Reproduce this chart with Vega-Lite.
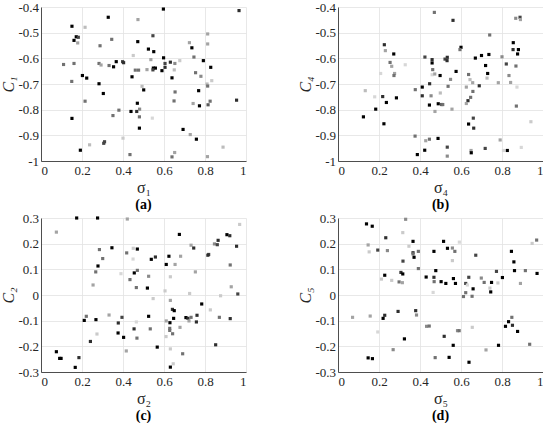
{
  "$schema": "https://vega.github.io/schema/vega-lite/v6.json",
  "padding": {"left": 0, "top": 1, "right": 0, "bottom": 0},
  "background": "white",
  "datasets": {
    "a": [
      {"s":0.328,"c":-0.440,"g":0},{"s":0.473,"c":-0.449,"g":0.7},{"s":0.151,"c":-0.475,"g":0},{"s":0.215,"c":-0.479,"g":0.8},
      {"s":0.172,"c":-0.516,"g":0},{"s":0.182,"c":-0.518,"g":0.3},{"s":0.161,"c":-0.530,"g":0},{"s":0.179,"c":-0.540,"g":0.7},
      {"s":0.345,"c":-0.526,"g":0.5},{"s":0.472,"c":-0.535,"g":0},{"s":0.288,"c":-0.551,"g":0.5},{"s":0.450,"c":-0.589,"g":0.85},
      {"s":0.110,"c":-0.624,"g":0.5},{"s":0.161,"c":-0.620,"g":0.5},{"s":0.150,"c":-0.690,"g":0.5},{"s":0.202,"c":-0.667,"g":0},
      {"s":0.223,"c":-0.677,"g":0},{"s":0.283,"c":-0.620,"g":0.5},{"s":0.293,"c":-0.626,"g":0.7},{"s":0.332,"c":-0.628,"g":0.5},
      {"s":0.354,"c":-0.633,"g":0},{"s":0.367,"c":-0.613,"g":0},{"s":0.398,"c":-0.613,"g":0.3},{"s":0.403,"c":-0.617,"g":0.2},
      {"s":0.283,"c":-0.699,"g":0},{"s":0.304,"c":-0.737,"g":0},{"s":0.215,"c":-0.767,"g":0.5},{"s":0.380,"c":-0.802,"g":0.5},
      {"s":0.351,"c":-0.823,"g":0.5},{"s":0.151,"c":-0.834,"g":0},{"s":0.400,"c":-0.911,"g":0.85},{"s":0.306,"c":-0.931,"g":0.3},
      {"s":0.310,"c":-0.925,"g":0.3},{"s":0.237,"c":-0.937,"g":0.8},{"s":0.192,"c":-0.958,"g":0},{"s":0.434,"c":-0.975,"g":0.5},
      {"s":0.444,"c":-0.672,"g":0},{"s":0.460,"c":-0.646,"g":0.5},{"s":0.476,"c":-0.646,"g":0.5},{"s":0.470,"c":-0.775,"g":0},
      {"s":0.467,"c":-0.807,"g":0.2},{"s":0.439,"c":-0.807,"g":0},{"s":0.480,"c":-0.828,"g":0.5},{"s":0.481,"c":-0.798,"g":0.6},
      {"s":0.480,"c":-0.872,"g":0},{"s":0.501,"c":-0.723,"g":0},{"s":0.493,"c":-0.709,"g":0.8},{"s":0.597,"c":-0.408,"g":0},
      {"s":0.966,"c":-0.414,"g":0.2},{"s":0.546,"c":-0.512,"g":0.3},{"s":0.813,"c":-0.505,"g":0.7},{"s":0.724,"c":-0.539,"g":0.7},
      {"s":0.736,"c":-0.559,"g":0},{"s":0.813,"c":-0.544,"g":0.7},{"s":0.524,"c":-0.564,"g":0},{"s":0.550,"c":-0.574,"g":0},
      {"s":0.598,"c":-0.598,"g":0},{"s":0.746,"c":-0.595,"g":0.5},{"s":0.536,"c":-0.605,"g":0.7},{"s":0.605,"c":-0.620,"g":0.3},
      {"s":0.631,"c":-0.615,"g":0.2},{"s":0.653,"c":-0.620,"g":0.6},{"s":0.677,"c":-0.609,"g":0.85},{"s":0.792,"c":-0.609,"g":0},
      {"s":0.828,"c":-0.635,"g":0},{"s":0.517,"c":-0.644,"g":0.7},{"s":0.548,"c":-0.638,"g":0},{"s":0.558,"c":-0.638,"g":0},
      {"s":0.546,"c":-0.645,"g":0.3},{"s":0.605,"c":-0.635,"g":0.2},{"s":0.590,"c":-0.648,"g":0},{"s":0.650,"c":-0.645,"g":0.8},
      {"s":0.754,"c":-0.656,"g":0.5},{"s":0.780,"c":-0.670,"g":0.6},{"s":0.639,"c":-0.676,"g":0},{"s":0.833,"c":-0.687,"g":0.85},
      {"s":0.810,"c":-0.700,"g":0.8},{"s":0.813,"c":-0.708,"g":0.5},{"s":0.769,"c":-0.726,"g":0},{"s":0.654,"c":-0.731,"g":0.5},
      {"s":0.649,"c":-0.766,"g":0.5},{"s":0.742,"c":-0.776,"g":0.7},{"s":0.773,"c":-0.785,"g":0},{"s":0.815,"c":-0.781,"g":0.4},
      {"s":0.825,"c":-0.767,"g":0.5},{"s":0.954,"c":-0.763,"g":0.2},{"s":0.543,"c":-0.833,"g":0.9},{"s":0.693,"c":-0.877,"g":0},
      {"s":0.728,"c":-0.897,"g":0.7},{"s":0.758,"c":-0.915,"g":0},{"s":0.888,"c":-0.946,"g":0.8},{"s":0.652,"c":-0.967,"g":0.7},
      {"s":0.639,"c":-0.984,"g":0.5},{"s":0.812,"c":-0.983,"g":0.7}
    ],
    "b": [
      {"s":0.470,"c":-0.421,"g":0.5},{"s":0.226,"c":-0.547,"g":0.2},{"s":0.231,"c":-0.570,"g":0.7},{"s":0.272,"c":-0.583,"g":0},
      {"s":0.254,"c":-0.616,"g":0.5},{"s":0.262,"c":-0.631,"g":0.7},{"s":0.276,"c":-0.659,"g":0.7},{"s":0.273,"c":-0.667,"g":0.5},
      {"s":0.328,"c":-0.625,"g":0.9},{"s":0.208,"c":-0.659,"g":0.9},{"s":0.133,"c":-0.726,"g":0.8},{"s":0.179,"c":-0.750,"g":0.9},
      {"s":0.218,"c":-0.749,"g":0.2},{"s":0.236,"c":-0.772,"g":0},{"s":0.285,"c":-0.754,"g":0},{"s":0.184,"c":-0.798,"g":0},
      {"s":0.124,"c":-0.828,"g":0},{"s":0.224,"c":-0.855,"g":0},{"s":0.377,"c":-0.722,"g":0.5},{"s":0.424,"c":-0.595,"g":0.3},
      {"s":0.459,"c":-0.605,"g":0.2},{"s":0.459,"c":-0.618,"g":0},{"s":0.462,"c":-0.644,"g":0.5},{"s":0.459,"c":-0.664,"g":0.9},
      {"s":0.472,"c":-0.661,"g":0.7},{"s":0.498,"c":-0.667,"g":0},{"s":0.447,"c":-0.699,"g":0.2},{"s":0.411,"c":-0.712,"g":0},
      {"s":0.411,"c":-0.746,"g":0.2},{"s":0.454,"c":-0.746,"g":0.6},{"s":0.446,"c":-0.782,"g":0},{"s":0.489,"c":-0.777,"g":0},
      {"s":0.506,"c":-0.780,"g":0.3},{"s":0.473,"c":-0.807,"g":0.7},{"s":0.499,"c":-0.735,"g":0.8},{"s":0.376,"c":-0.903,"g":0.5},
      {"s":0.387,"c":-0.975,"g":0},{"s":0.423,"c":-0.958,"g":0},{"s":0.428,"c":-0.921,"g":0.7},{"s":0.446,"c":-0.915,"g":0.5},
      {"s":0.488,"c":-0.912,"g":0},{"s":0.561,"c":-0.452,"g":0.2},{"s":0.867,"c":-0.444,"g":0.6},{"s":0.888,"c":-0.440,"g":0.3},
      {"s":0.890,"c":-0.449,"g":0.7},{"s":0.740,"c":-0.509,"g":0.5},{"s":0.855,"c":-0.539,"g":0},{"s":0.854,"c":-0.566,"g":0.2},
      {"s":0.880,"c":-0.566,"g":0},{"s":0.876,"c":-0.583,"g":0},{"s":0.600,"c":-0.557,"g":0},{"s":0.595,"c":-0.566,"g":0.5},
      {"s":0.533,"c":-0.596,"g":0.2},{"s":0.522,"c":-0.603,"g":0.3},{"s":0.532,"c":-0.609,"g":0.2},{"s":0.670,"c":-0.599,"g":0},
      {"s":0.700,"c":-0.589,"g":0},{"s":0.736,"c":-0.585,"g":0},{"s":0.800,"c":-0.594,"g":0.6},{"s":0.821,"c":-0.622,"g":0.3},
      {"s":0.868,"c":-0.630,"g":0.5},{"s":0.720,"c":-0.628,"g":0},{"s":0.730,"c":-0.659,"g":0},{"s":0.727,"c":-0.677,"g":0.8},
      {"s":0.834,"c":-0.667,"g":0.6},{"s":0.842,"c":-0.694,"g":0.7},{"s":0.782,"c":-0.695,"g":0.7},{"s":0.576,"c":-0.651,"g":0},
      {"s":0.549,"c":-0.682,"g":0.6},{"s":0.637,"c":-0.663,"g":0.5},{"s":0.657,"c":-0.695,"g":0.7},{"s":0.644,"c":-0.683,"g":0.8},
      {"s":0.537,"c":-0.709,"g":0.5},{"s":0.689,"c":-0.707,"g":0.2},{"s":0.626,"c":-0.712,"g":0.7},{"s":0.658,"c":-0.729,"g":0.5},
      {"s":0.647,"c":-0.752,"g":0.5},{"s":0.634,"c":-0.765,"g":0.2},{"s":0.626,"c":-0.776,"g":0.7},{"s":0.511,"c":-0.780,"g":0.5},
      {"s":0.556,"c":-0.798,"g":0.7},{"s":0.870,"c":-0.786,"g":0.5},{"s":0.873,"c":-0.712,"g":0.9},{"s":0.660,"c":-0.833,"g":0.3},
      {"s":0.637,"c":-0.856,"g":0},{"s":0.662,"c":-0.872,"g":0.2},{"s":0.941,"c":-0.847,"g":0.85},{"s":0.791,"c":-0.918,"g":0.7},
      {"s":0.533,"c":-0.946,"g":0.3},{"s":0.533,"c":-0.981,"g":0.6},{"s":0.649,"c":-0.959,"g":0.7},{"s":0.650,"c":-0.968,"g":0},
      {"s":0.718,"c":-0.951,"g":0.3},{"s":0.826,"c":-0.959,"g":0},{"s":0.807,"c":-0.959,"g":0.9},{"s":0.894,"c":-0.947,"g":0.9}
    ],
    "c": [
      {"s":0.174,"c":0.300,"g":0},{"s":0.276,"c":0.300,"g":0},{"s":0.421,"c":0.296,"g":0.7},{"s":0.075,"c":0.245,"g":0.7},
      {"s":0.346,"c":0.184,"g":0},{"s":0.285,"c":0.177,"g":0.5},{"s":0.301,"c":0.142,"g":0.5},{"s":0.278,"c":0.113,"g":0},
      {"s":0.267,"c":0.090,"g":0.5},{"s":0.254,"c":0.039,"g":0.7},{"s":0.450,"c":0.182,"g":0.85},{"s":0.470,"c":0.179,"g":0},
      {"s":0.418,"c":0.164,"g":0.5},{"s":0.449,"c":0.140,"g":0.9},{"s":0.390,"c":0.083,"g":0.9},{"s":0.455,"c":0.086,"g":0},
      {"s":0.470,"c":0.096,"g":0.5},{"s":0.434,"c":0.060,"g":0.5},{"s":0.465,"c":0.029,"g":0.5},{"s":0.211,"c":-0.099,"g":0},
      {"s":0.221,"c":-0.083,"g":0.5},{"s":0.268,"c":-0.096,"g":0},{"s":0.332,"c":-0.078,"g":0.7},{"s":0.273,"c":-0.152,"g":0.85},
      {"s":0.241,"c":-0.181,"g":0.2},{"s":0.377,"c":-0.109,"g":0.2},{"s":0.395,"c":-0.087,"g":0.3},{"s":0.376,"c":-0.148,"g":0},
      {"s":0.403,"c":-0.165,"g":0},{"s":0.454,"c":-0.132,"g":0.2},{"s":0.465,"c":-0.105,"g":0.9},{"s":0.468,"c":-0.168,"g":0.5},
      {"s":0.416,"c":-0.218,"g":0.7},{"s":0.075,"c":-0.221,"g":0},{"s":0.091,"c":-0.247,"g":0},{"s":0.098,"c":-0.247,"g":0},
      {"s":0.185,"c":-0.244,"g":0.2},{"s":0.167,"c":-0.282,"g":0},{"s":0.675,"c":0.236,"g":0},{"s":0.969,"c":0.275,"g":0.85},
      {"s":0.907,"c":0.235,"g":0},{"s":0.921,"c":0.231,"g":0.2},{"s":0.864,"c":0.213,"g":0.2},{"s":0.846,"c":0.199,"g":0.6},
      {"s":0.860,"c":0.196,"g":0.3},{"s":0.954,"c":0.190,"g":0.2},{"s":0.732,"c":0.194,"g":0.7},{"s":0.745,"c":0.183,"g":0.2},
      {"s":0.818,"c":0.158,"g":0.3},{"s":0.814,"c":0.155,"g":0.2},{"s":0.558,"c":0.148,"g":0.2},{"s":0.538,"c":0.139,"g":0},
      {"s":0.624,"c":0.151,"g":0},{"s":0.681,"c":0.151,"g":0.7},{"s":0.611,"c":0.119,"g":0},{"s":0.654,"c":0.119,"g":0.7},
      {"s":0.923,"c":0.117,"g":0.5},{"s":0.753,"c":0.090,"g":0.7},{"s":0.525,"c":0.073,"g":0.6},{"s":0.631,"c":0.071,"g":0.85},
      {"s":0.928,"c":0.032,"g":0.7},{"s":0.519,"c":0.027,"g":0},{"s":0.605,"c":0.016,"g":0.85},{"s":0.725,"c":0.006,"g":0.85},
      {"s":0.960,"c":0.004,"g":0.3},{"s":0.876,"c":-0.003,"g":0.85},{"s":0.547,"c":-0.014,"g":0.85},{"s":0.631,"c":-0.021,"g":0.7},
      {"s":0.784,"c":-0.035,"g":0},{"s":0.641,"c":-0.056,"g":0.2},{"s":0.650,"c":-0.061,"g":0},{"s":0.826,"c":-0.058,"g":0.85},
      {"s":0.525,"c":-0.083,"g":0},{"s":0.647,"c":-0.091,"g":0},{"s":0.707,"c":-0.088,"g":0},{"s":0.717,"c":-0.091,"g":0.2},
      {"s":0.732,"c":-0.087,"g":0.5},{"s":0.722,"c":-0.101,"g":0.7},{"s":0.761,"c":-0.079,"g":0.2},{"s":0.758,"c":-0.105,"g":0.2},
      {"s":0.870,"c":-0.087,"g":0.5},{"s":0.923,"c":-0.092,"g":0.2},{"s":0.611,"c":-0.101,"g":0.7},{"s":0.629,"c":-0.108,"g":0},
      {"s":0.628,"c":-0.130,"g":0.5},{"s":0.628,"c":-0.138,"g":0.5},{"s":0.533,"c":-0.132,"g":0.5},{"s":0.678,"c":-0.126,"g":0.7},
      {"s":0.642,"c":-0.151,"g":0.5},{"s":0.610,"c":-0.162,"g":0.85},{"s":0.567,"c":-0.203,"g":0},{"s":0.852,"c":-0.194,"g":0.2},
      {"s":0.631,"c":-0.210,"g":0.85},{"s":0.691,"c":-0.229,"g":0.5},{"s":0.645,"c":-0.268,"g":0.85},{"s":0.631,"c":-0.281,"g":0}
    ],
    "d": [
      {"s":0.139,"c":0.277,"g":0},{"s":0.167,"c":0.268,"g":0},{"s":0.330,"c":0.295,"g":0.6},{"s":0.316,"c":0.243,"g":0.85},
      {"s":0.233,"c":0.223,"g":0.2},{"s":0.147,"c":0.195,"g":0.7},{"s":0.152,"c":0.168,"g":0.85},{"s":0.194,"c":0.175,"g":0.3},
      {"s":0.241,"c":0.173,"g":0.6},{"s":0.366,"c":0.209,"g":0},{"s":0.346,"c":0.190,"g":0.85},{"s":0.366,"c":0.165,"g":0.3},
      {"s":0.366,"c":0.160,"g":0.5},{"s":0.392,"c":0.170,"g":0.5},{"s":0.371,"c":0.147,"g":0},{"s":0.317,"c":0.132,"g":0.3},
      {"s":0.468,"c":0.170,"g":0},{"s":0.392,"c":0.103,"g":0.5},{"s":0.307,"c":0.088,"g":0.2},{"s":0.316,"c":0.082,"g":0},
      {"s":0.228,"c":0.077,"g":0},{"s":0.212,"c":0.062,"g":0.85},{"s":0.262,"c":0.057,"g":0.85},{"s":0.298,"c":0.051,"g":0.5},
      {"s":0.314,"c":0.048,"g":0.7},{"s":0.430,"c":0.070,"g":0},{"s":0.468,"c":0.069,"g":0.2},{"s":0.477,"c":0.095,"g":0},
      {"s":0.469,"c":0.052,"g":0.5},{"s":0.503,"c":0.052,"g":0},{"s":0.464,"c":0.010,"g":0.9},{"s":0.071,"c":-0.087,"g":0.7},
      {"s":0.157,"c":-0.082,"g":0.7},{"s":0.228,"c":-0.079,"g":0.2},{"s":0.220,"c":-0.091,"g":0},{"s":0.194,"c":-0.144,"g":0.9},
      {"s":0.293,"c":-0.064,"g":0.2},{"s":0.379,"c":-0.061,"g":0.2},{"s":0.383,"c":-0.078,"g":0.6},{"s":0.432,"c":-0.122,"g":0.6},
      {"s":0.445,"c":-0.121,"g":0.5},{"s":0.324,"c":-0.171,"g":0},{"s":0.269,"c":-0.213,"g":0.6},{"s":0.147,"c":-0.245,"g":0},
      {"s":0.168,"c":-0.248,"g":0},{"s":0.474,"c":-0.244,"g":0.5},{"s":0.515,"c":0.209,"g":0},{"s":0.534,"c":0.182,"g":0},
      {"s":0.558,"c":0.183,"g":0.6},{"s":0.570,"c":0.170,"g":0.5},{"s":0.558,"c":0.134,"g":0.85},{"s":0.592,"c":0.206,"g":0.9},
      {"s":0.672,"c":0.155,"g":0.3},{"s":0.526,"c":0.045,"g":0},{"s":0.563,"c":0.064,"g":0},{"s":0.573,"c":0.045,"g":0},
      {"s":0.638,"c":0.069,"g":0.3},{"s":0.623,"c":0.045,"g":0.3},{"s":0.631,"c":0.039,"g":0.9},{"s":0.659,"c":0.024,"g":0},
      {"s":0.623,"c":0.009,"g":0.5},{"s":0.612,"c":-0.006,"g":0.5},{"s":0.654,"c":-0.005,"g":0.5},{"s":0.699,"c":0.066,"g":0.6},
      {"s":0.713,"c":0.049,"g":0.5},{"s":0.749,"c":0.049,"g":0},{"s":0.741,"c":0.027,"g":0.85},{"s":0.745,"c":0.012,"g":0},
      {"s":0.773,"c":0.092,"g":0.3},{"s":0.802,"c":0.068,"g":0},{"s":0.780,"c":0.047,"g":0.85},{"s":0.846,"c":0.170,"g":0},
      {"s":0.858,"c":0.129,"g":0},{"s":0.861,"c":0.095,"g":0},{"s":0.914,"c":0.095,"g":0.5},{"s":0.890,"c":0.045,"g":0.7},
      {"s":0.969,"c":0.214,"g":0.5},{"s":0.947,"c":0.201,"g":0.85},{"s":0.971,"c":0.084,"g":0},{"s":0.583,"c":-0.139,"g":0.6},
      {"s":0.591,"c":-0.139,"g":0.5},{"s":0.518,"c":-0.161,"g":0.2},{"s":0.562,"c":-0.196,"g":0},{"s":0.542,"c":-0.243,"g":0},
      {"s":0.639,"c":-0.262,"g":0},{"s":0.655,"c":-0.126,"g":0.85},{"s":0.722,"c":-0.214,"g":0.7},{"s":0.783,"c":-0.196,"g":0},
      {"s":0.817,"c":-0.122,"g":0},{"s":0.832,"c":-0.104,"g":0},{"s":0.848,"c":-0.087,"g":0.5},{"s":0.851,"c":-0.118,"g":0.2},
      {"s":0.876,"c":-0.142,"g":0},{"s":0.935,"c":-0.192,"g":0.5}
    ]
  },
  "vconcat": [
    {
      "spacing": 51,
      "hconcat": [
        {
          "width": 205, "height": 154,
          "data": {"name": "a"},
          "title": "(a)",
          "mark": {"type": "square", "size": 10, "opacity": 1},
          "encoding": {
            "x": {"field": "s", "type": "quantitative", "scale": {"domain": [0, 1], "nice": false},
                  "axis": {"title": "σ₁", "values": [0, 0.2, 0.4, 0.6, 0.8, 1]}},
            "y": {"field": "c", "type": "quantitative", "scale": {"domain": [-1, -0.4], "nice": false, "zero": false},
                  "axis": {"title": "C₁", "values": [-1, -0.9, -0.8, -0.7, -0.6, -0.5, -0.4]}},
            "color": {"field": "g", "type": "quantitative", "scale": {"domain": [0, 1], "range": ["#000000", "#f2f2f2"]}, "legend": null}
          }
        },
        {
          "width": 205, "height": 154,
          "data": {"name": "b"},
          "title": "(b)",
          "mark": {"type": "square", "size": 10, "opacity": 1},
          "encoding": {
            "x": {"field": "s", "type": "quantitative", "scale": {"domain": [0, 1], "nice": false},
                  "axis": {"title": "σ₄", "values": [0, 0.2, 0.4, 0.6, 0.8, 1]}},
            "y": {"field": "c", "type": "quantitative", "scale": {"domain": [-1, -0.4], "nice": false, "zero": false},
                  "axis": {"title": "C₄", "values": [-1, -0.9, -0.8, -0.7, -0.6, -0.5, -0.4]}},
            "color": {"field": "g", "type": "quantitative", "scale": {"domain": [0, 1], "range": ["#000000", "#f2f2f2"]}, "legend": null}
          }
        }
      ]
    },
    {
      "spacing": 51,
      "hconcat": [
        {
          "width": 205, "height": 154,
          "data": {"name": "c"},
          "title": "(c)",
          "mark": {"type": "square", "size": 10, "opacity": 1},
          "encoding": {
            "x": {"field": "s", "type": "quantitative", "scale": {"domain": [0, 1], "nice": false},
                  "axis": {"title": "σ₂", "values": [0, 0.2, 0.4, 0.6, 0.8, 1]}},
            "y": {"field": "c", "type": "quantitative", "scale": {"domain": [-0.3, 0.3], "nice": false},
                  "axis": {"title": "C₂", "values": [-0.3, -0.2, -0.1, 0, 0.1, 0.2, 0.3]}},
            "color": {"field": "g", "type": "quantitative", "scale": {"domain": [0, 1], "range": ["#000000", "#f2f2f2"]}, "legend": null}
          }
        },
        {
          "width": 205, "height": 154,
          "data": {"name": "d"},
          "title": "(d)",
          "mark": {"type": "square", "size": 10, "opacity": 1},
          "encoding": {
            "x": {"field": "s", "type": "quantitative", "scale": {"domain": [0, 1], "nice": false},
                  "axis": {"title": "σ₅", "values": [0, 0.2, 0.4, 0.6, 0.8, 1]}},
            "y": {"field": "c", "type": "quantitative", "scale": {"domain": [-0.3, 0.3], "nice": false},
                  "axis": {"title": "C₅", "values": [-0.3, -0.2, -0.1, 0, 0.1, 0.2, 0.3]}},
            "color": {"field": "g", "type": "quantitative", "scale": {"domain": [0, 1], "range": ["#000000", "#f2f2f2"]}, "legend": null}
          }
        }
      ]
    }
  ],
  "spacing": 0,
  "config": {
    "view": {"stroke": null},
    "axis": {
      "labelFont": "Liberation Serif", "labelFontSize": 13, "labelColor": "#262626", "labelPadding": 3,
      "titleFont": "Liberation Serif", "titleFontSize": 16, "titleFontWeight": "normal", "titleColor": "#262626",
      "ticks": false, "domainColor": "#262626", "domainWidth": 0.8,
      "gridColor": "#e2e2e2", "gridWidth": 0.8,
      "labelExpr": "datum.value < 0 ? '-' + format(-datum.value, '~g') : format(datum.value, '~g')"
    },
    "axisX": {"titlePadding": 2},
    "axisY": {"titleFontStyle": "italic", "titlePadding": 1, "labelPadding": 2.5},
    "title": {"font": "Liberation Serif", "fontSize": 14, "fontWeight": "bold", "color": "#000000", "orient": "bottom", "offset": 3}
  }
}
